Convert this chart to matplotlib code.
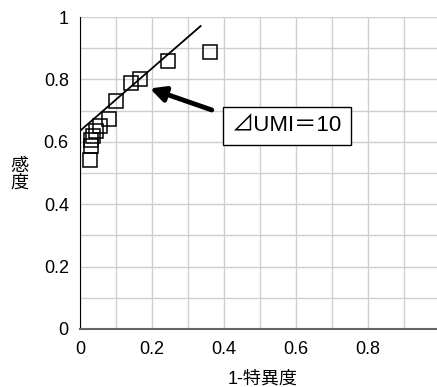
import matplotlib
matplotlib.use("Agg")
import matplotlib.pyplot as plt
import numpy as np

plt.rcParams['font.family'] = ['Liberation Sans', 'Noto Sans CJK JP', 'DejaVu Sans']

# ROC points (1-specificity, sensitivity)
fpr = [0.028, 0.032, 0.032, 0.036, 0.045, 0.056, 0.080, 0.101, 0.141, 0.168, 0.245, 0.361]
tpr = [0.542, 0.585, 0.605, 0.620, 0.635, 0.650, 0.672, 0.730, 0.790, 0.800, 0.860, 0.887]

# fitted line
line_x = [0.0, 0.335]
line_y = [0.635, 0.971]

label_text = "⊿UMI＝10"

fig = plt.figure(figsize=(4.37, 3.87), dpi=100)
ax = fig.add_axes([0.183, 0.150, 0.824, 0.806])

grid = np.arange(0, 1.01, 0.1)
ax.set_xlim(0, 1)
ax.set_ylim(0, 1)
ax.set_xticks(grid)
ax.set_yticks(grid)
ax.set_xticklabels(["%g" % v if round(v * 10) % 2 == 0 and v < 0.95 else "" for v in grid])
ax.set_yticklabels(["%g" % v if round(v * 10) % 2 == 0 else "" for v in grid])
ax.grid(True, color="#cfcfcf", linewidth=1)
ax.set_axisbelow(True)
ax.tick_params(length=0, labelsize=13)
ax.tick_params(axis="x", pad=9)
ax.tick_params(axis="y", pad=8)

for s in ["top", "right"]:
    ax.spines[s].set_visible(False)
ax.spines["left"].set_color("black")
ax.spines["bottom"].set_color("#666666")
ax.spines["bottom"].set_linewidth(1.5)

ax.plot(line_x, line_y, color="black", linewidth=1.3, zorder=3)
ax.plot(fpr, tpr, linestyle="none", marker="s", markersize=10,
        markerfacecolor="none", markeredgecolor="black", markeredgewidth=1.1, zorder=4)

ax.annotate("", xy=(0.194, 0.771), xytext=(0.366, 0.702),
            arrowprops=dict(arrowstyle="-|>,head_length=0.9,head_width=0.45",
                            color="black", linewidth=3.5, shrinkA=0, shrinkB=0), zorder=5)
ax.text(0.575, 0.651, label_text, fontsize=16, ha="center", va="center",
        bbox=dict(boxstyle="square,pad=0.38", facecolor="white", edgecolor="black", linewidth=1),
        zorder=6)

fig.text(19 / 437, 1 - 175 / 387, "感\n度", fontsize=13, ha="center", va="center",
         linespacing=1.0)
fig.text(263 / 437, 1 - 379 / 387, "1-特異度", fontsize=13, ha="center", va="center")

fig.savefig("out.png", dpi=100)
